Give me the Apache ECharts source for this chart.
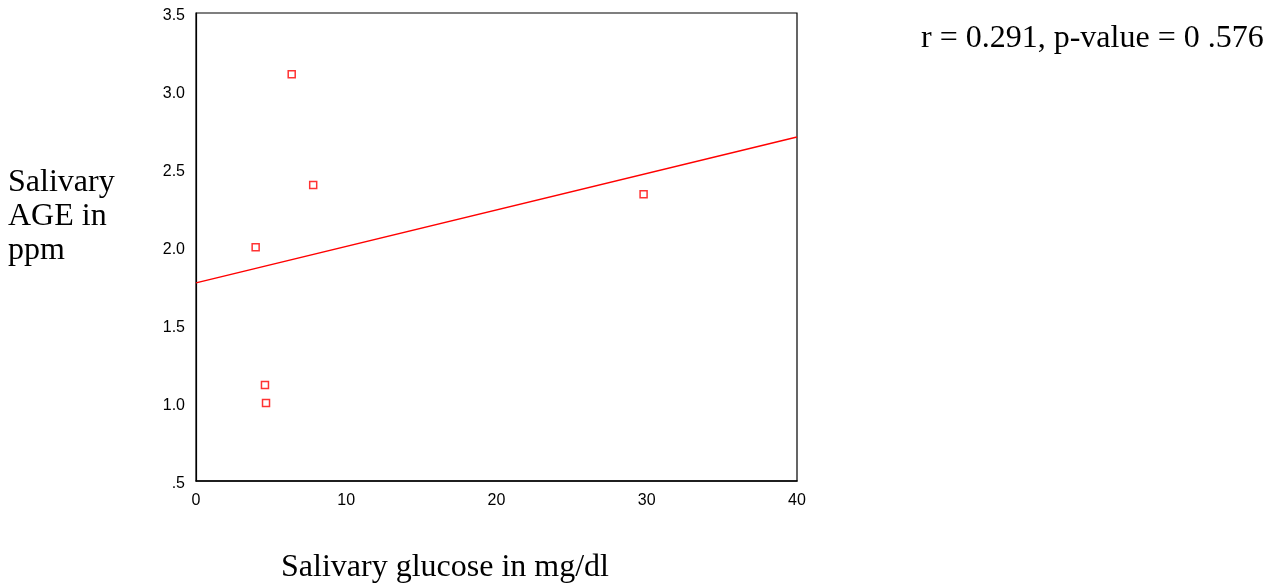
<!DOCTYPE html>
<html>
<head>
<meta charset="utf-8">
<script src="https://cdn.jsdelivr.net/npm/echarts@6/dist/echarts.min.js"></script>
<style>
html,body{margin:0;padding:0;background:#fff;}
#chart{width:1278px;height:584px;}
</style>
</head>
<body>
<div id="chart"></div>
<script>
// Data
var glucose = [6.37, 7.8, 3.97, 29.79, 4.59, 4.66];
var ageVals = [3.107, 2.397, 1.998, 2.338, 1.115, 1.0];
var fitX = [0, 40];
var fitY = [1.77, 2.705];
var xTicks = [0, 10, 20, 30, 40];
var yTickLabels = ['.5', '1.0', '1.5', '2.0', '2.5', '3.0', '3.5'];
var statsText = 'r = 0.291, p-value = 0 .576';
var xTitle = 'Salivary glucose in mg/dl';
var yTitle = 'Salivary\nAGE in\nppm';

var points = glucose.map(function (x, i) { return [x, ageVals[i]]; });
var fitLine = fitX.map(function (x, i) { return [x, fitY[i]]; });

var serif = '32px "Liberation Serif", "Times New Roman", serif';
var chart = echarts.init(document.getElementById('chart'), null, {renderer: 'canvas'});
chart.setOption({
  backgroundColor: '#ffffff',
  animation: false,
  grid: {left: 196, top: 13, width: 601, height: 468, show: true, borderColor: '#000', borderWidth: 1.2, backgroundColor: 'transparent'},
  xAxis: {
    type: 'value', min: 0, max: 40, interval: 10,
    axisLine: {show: true, lineStyle: {color: '#000', width: 1.5}},
    axisTick: {show: false},
    splitLine: {show: false},
    axisLabel: {color: '#000', fontSize: 16, fontFamily: 'Liberation Sans, Arial, sans-serif', margin: 12,
      formatter: function (v) { return xTicks.indexOf(v) >= 0 ? String(v) : ''; }}
  },
  yAxis: {
    type: 'value', min: 0.5, max: 3.5, interval: 0.5,
    axisLine: {show: true, lineStyle: {color: '#000', width: 1.2}},
    axisTick: {show: false},
    splitLine: {show: false},
    axisLabel: {color: '#000', fontSize: 16, fontFamily: 'Liberation Sans, Arial, sans-serif', margin: 11,
      formatter: function (v) { var i = Math.round((v - 0.5) / 0.5); return yTickLabels[i] ? '{t|' + yTickLabels[i] + '}' : ''; },
      rich: {t: {fontSize: 16, fontFamily: 'Liberation Sans, Arial, sans-serif', color: '#000', padding: [5, 0, 0, 0]}}}
  },
  graphic: [
    {type: 'text', left: 8, top: 166, style: {text: yTitle, font: serif, fill: '#000', lineHeight: 34}},
    {type: 'text', left: 281, top: 552, style: {text: xTitle, font: serif, fill: '#000'}},
    {type: 'text', left: 921, top: 23, style: {text: statsText, font: serif, fill: '#000'}}
  ],
  series: [
    {
      type: 'line', data: fitLine, symbol: 'none', silent: true,
      lineStyle: {color: '#ff0000', width: 1.5}
    },
    {
      type: 'scatter', data: points, symbol: 'rect', symbolSize: 7,
      itemStyle: {color: '#ffffff', borderColor: '#ff0000', borderWidth: 1.5}
    }
  ]
});
</script>
</body>
</html>
